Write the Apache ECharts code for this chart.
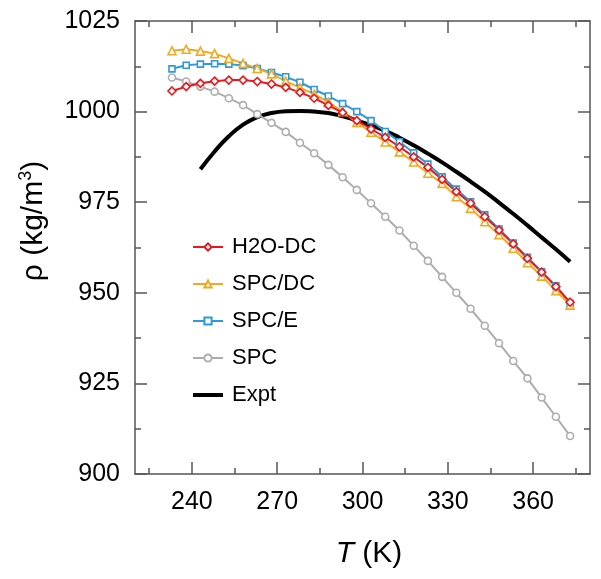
<!DOCTYPE html>
<html><head><meta charset="utf-8">
<script src="https://cdn.jsdelivr.net/npm/echarts@6/dist/echarts.min.js"></script>
<style>html,body{margin:0;padding:0;background:#fff}#c{width:601px;height:579px}</style>
</head><body><div id="c"></div>
<script>
// Temperatures (K)
const temps = [233,238,243,248,253,258,263,268,273,278,283,288,293,298,303,308,313,318,323,328,333,338,343,348,353,358,363,368,373];
// Densities (kg/m^3)
const h2oDC = [1005.7,1006.9,1007.8,1008.4,1008.7,1008.7,1008.3,1007.6,1006.7,1005.3,1003.7,1001.7,999.7,997.5,995.2,992.9,990.3,987.5,984.6,981.3,977.9,974.7,971.0,967.3,963.5,959.5,955.7,951.7,947.4];
const spcDC = [1016.8,1017.2,1016.7,1016.0,1014.7,1013.3,1011.9,1010.4,1008.4,1006.6,1004.8,1002.6,1000.0,997.0,994.3,991.6,988.9,986.1,983.0,980.2,976.5,973.3,969.6,966.0,962.3,958.3,954.6,950.6,946.6];
const spcE = [1011.8,1012.8,1013.1,1013.2,1013.1,1012.7,1011.9,1010.8,1009.6,1008.1,1006.1,1004.3,1002.2,1000.0,997.5,994.5,991.7,988.6,985.5,982.0,978.6,975.1,971.5,967.6,963.7,959.8,955.8,951.9,947.1];
const spc = [1009.4,1008.3,1006.9,1005.5,1003.7,1001.8,999.3,996.9,994.4,991.4,988.5,985.3,981.9,978.4,974.7,971.0,967.2,963.0,958.8,954.4,950.0,945.6,940.9,936.1,931.2,926.4,921.1,915.8,910.5];
const exptTemps = [243,248,253,258,263,268,273,278,283,288,293,298,303,308,313,318,323,328,333,338,343,348,353,358,363,368,373];
const expt = [984.1,989.0,993.2,996.4,998.5,999.6,1000.1,1000.2,1000.0,999.6,998.7,997.6,996.2,994.7,992.8,990.7,988.4,986.0,983.4,980.7,977.9,974.9,971.8,968.6,965.3,962.0,958.6];
// Axis ticks
const xMajor = [240,270,300,330,360];
const xMinor = [225,255,285,315,345,375];
const seriesNames = ['H2O-DC','SPC/DC','SPC/E','SPC','Expt'];

const FONT = '"Liberation Sans", Arial, Helvetica, sans-serif';
const axisCol = '#555';
const lineStyle = {color: axisCol, width: 1.5};
const pairs = (xs, ys) => xs.map((t, i) => [t, ys[i]]);

function xAx(pos, ticks, len, labels, line) {
  return {
    type: 'value', position: pos, min: 220, max: 380,
    axisLine: {show: line, onZero: false, lineStyle},
    axisTick: {show: true, inside: true, length: len, customValues: ticks, lineStyle},
    axisLabel: labels ? {show: true, customValues: ticks, fontSize: 25, color: '#000', margin: 16, fontFamily: FONT, formatter: v => String(v)} : {show: false},
    splitLine: {show: false}
  };
}
function yAx(pos, labels) {
  return {
    type: 'value', position: pos, min: 900, max: 1025, interval: 25,
    axisLine: {show: true, onZero: false, lineStyle},
    axisTick: {show: true, inside: true, length: 12, lineStyle},
    minorTick: {show: true, splitNumber: 2, length: 6, lineStyle},
    axisLabel: labels ? {show: true, fontSize: 25, color: '#000', margin: 15, fontFamily: FONT, formatter: v => String(v)} : {show: false},
    splitLine: {show: false}
  };
}

function mk(name, data, color, symbol, size) {
  return {
    name, type: 'line', xAxisIndex: 0, yAxisIndex: 0, data,
    symbol, symbolSize: size, showSymbol: true,
    lineStyle: {color, width: 2},
    itemStyle: {color: '#fff', borderColor: color, borderWidth: 1.6},
    emphasis: {disabled: true}
  };
}

const chart = echarts.init(document.getElementById('c'), null, {renderer: 'canvas'});
chart.setOption({
  animation: false,
  backgroundColor: '#fff',
  textStyle: {fontFamily: FONT},
  grid: {left: 135, top: 21, right: 11, bottom: 105, containLabel: false},
  xAxis: [
    xAx('bottom', xMajor, 12, true, true),
    xAx('bottom', xMinor, 6, false, false),
    xAx('top', xMajor, 12, false, true),
    xAx('top', xMinor, 6, false, false)
  ],
  yAxis: [yAx('left', true), yAx('right', false)],
  legend: {
    data: [
      {name: 'H2O-DC'}, {name: 'SPC/DC'}, {name: 'SPC/E'}, {name: 'SPC'},
      {name: 'Expt', icon: 'path://M0,0L30,0L30,4L0,4Z', itemStyle: {color: '#000'}}
    ],
    orient: 'vertical', left: 187, top: 231,
    itemWidth: 30, itemHeight: 9, itemGap: 15,
    textStyle: {fontSize: 22, color: '#000', fontFamily: FONT, padding: [0, 0, 0, 4]},
    selectedMode: false
  },
  series: [
    {
      name: 'Expt', type: 'line', data: pairs(exptTemps, expt), smooth: true,
      symbol: 'none', showSymbol: false,
      lineStyle: {color: '#000', width: 4}, itemStyle: {color: '#000'},
      emphasis: {disabled: true}
    },
    mk('SPC', pairs(temps, spc), '#adadad', 'circle', 7),
    mk('SPC/E', pairs(temps, spcE), '#2e9bd6', 'rect', 6),
    mk('SPC/DC', pairs(temps, spcDC), '#f2a922', 'triangle', 8),
    mk('H2O-DC', pairs(temps, h2oDC), '#e8191e', 'diamond', 8)
  ],
  graphic: [
    {
      type: 'text', x: 369, y: 554,
      style: {
        text: '{i|T}{n| (K)}', align: 'center', verticalAlign: 'middle',
        rich: {
          i: {fontSize: 30, fontStyle: 'italic', fontFamily: FONT, fill: '#000'},
          n: {fontSize: 30, fontFamily: FONT, fill: '#000'}
        }
      }
    },
    {
      type: 'text', x: 34, y: 221, rotation: Math.PI / 2,
      style: {
        text: '{a|ρ (kg/m}{s|3}{a|)}', align: 'center', verticalAlign: 'middle',
        rich: {
          a: {fontSize: 30, fontFamily: FONT, fill: '#000', lineHeight: 34},
          s: {fontSize: 18, fontFamily: FONT, fill: '#000', verticalAlign: 'top', lineHeight: 34}
        }
      }
    }
  ]
});
</script>
</body></html>
